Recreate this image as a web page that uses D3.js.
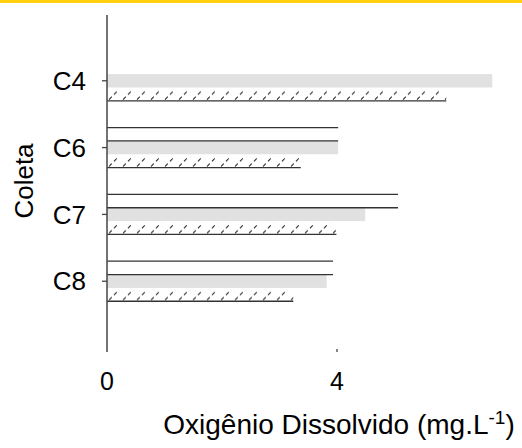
<!DOCTYPE html>
<html>
<head>
<meta charset="utf-8">
<script src="https://cdn.jsdelivr.net/npm/d3@7"></script>
<style>
  html, body { margin: 0; padding: 0; background: #fff; }
  svg { display: block; font-family: "Liberation Sans", Arial, sans-serif; }
</style>
</head>
<body>
<svg id="chart" width="522" height="448"></svg>
<script>
// ---- data ----
const categories = ["C4", "C6", "C7", "C8"];
const seriesNames = ["Série 1", "Série 2", "Série 3"];
const serie1 = [null, 4.02, 5.06, 3.93];   // white, outlined
const serie2 = [6.70, 4.02, 4.49, 3.82];   // light gray
const serie3 = [5.90, 3.37, 3.99, 3.24];   // hatched
const xTicks = [0, 4];
const xLabel = "Oxigênio Dissolvido (mg.L";
const xLabelSup = "-1";
const yLabel = "Coleta";

const svg = d3.select("#chart");

// top yellow rule
svg.append("rect").attr("x", 0).attr("y", 0).attr("width", 522).attr("height", 3)
  .attr("fill", "#FFCF10");

// hatch pattern
const defs = svg.append("defs");
const pat = defs.append("pattern").attr("id", "hatch")
  .attr("patternUnits", "userSpaceOnUse").attr("width", 14).attr("height", 13.4)
  .attr("x", 107);
pat.append("line").attr("x1", 2).attr("y1", 12).attr("x2", 12).attr("y2", 2)
  .attr("stroke", "#222").attr("stroke-width", 1.1).attr("stroke-dasharray", "4 3");

const x = d3.scaleLinear().domain([0, 8]).range([107, 567]);
const y0 = d3.scaleBand().domain(categories).range([34, 328])
  .paddingInner(0.4).paddingOuter(0.4);
const y1 = d3.scaleBand().domain(seriesNames).range([0, y0.bandwidth()]);

const rows = categories.map((c, i) => ({ cat: c, vals: [serie1[i], serie2[i], serie3[i]] }));

const g = svg.append("g");
const groups = g.selectAll("g.grp").data(rows).join("g")
  .attr("class", "grp")
  .attr("transform", d => `translate(0,${y0(d.cat)})`);

// gray bars
groups.filter(d => d.vals[1] != null).append("rect")
  .attr("x", x(0)).attr("y", y1(seriesNames[1]))
  .attr("width", d => x(d.vals[1]) - x(0)).attr("height", y1.bandwidth())
  .attr("fill", "#E1E1E1");

// hatched bars
groups.filter(d => d.vals[2] != null).append("rect")
  .attr("x", x(0)).attr("y", y1(seriesNames[2]))
  .attr("width", d => x(d.vals[2]) - x(0)).attr("height", y1.bandwidth())
  .attr("fill", "url(#hatch)");
groups.filter(d => d.vals[2] != null).append("line")
  .attr("x1", x(0)).attr("x2", d => x(d.vals[2]))
  .attr("y1", y1(seriesNames[2]) + y1.bandwidth()).attr("y2", y1(seriesNames[2]) + y1.bandwidth())
  .attr("stroke", "#333").attr("stroke-width", 1.3);

// white outlined bars (top & bottom edges)
const wb = groups.filter(d => d.vals[0] != null);
[0, 1].forEach(k => {
  wb.append("line")
    .attr("x1", x(0)).attr("x2", d => x(d.vals[0]))
    .attr("y1", y1(seriesNames[0]) + k * y1.bandwidth())
    .attr("y2", y1(seriesNames[0]) + k * y1.bandwidth())
    .attr("stroke", "#333").attr("stroke-width", 1.3);
});

// y axis
svg.append("line").attr("x1", 107).attr("x2", 107).attr("y1", 15).attr("y2", 352)
  .attr("stroke", "#444").attr("stroke-width", 1.5);
const catCenter = c => y0(c) + y1(seriesNames[1]) + y1.bandwidth() / 2;
svg.selectAll("line.ytick").data(categories).join("line").attr("class", "ytick")
  .attr("x1", 102).attr("x2", 107)
  .attr("y1", d => catCenter(d)).attr("y2", d => catCenter(d))
  .attr("stroke", "#444").attr("stroke-width", 1.3);
svg.selectAll("text.ylab").data(categories).join("text").attr("class", "ylab")
  .attr("x", 86).attr("y", d => catCenter(d) + 9.2)
  .attr("text-anchor", "end").attr("font-size", 26).attr("fill", "#000")
  .text(d => d);

// x ticks (no axis line)
svg.selectAll("line.xtick").data(xTicks.filter(v => v !== 0)).join("line").attr("class", "xtick")
  .attr("x1", d => x(d)).attr("x2", d => x(d)).attr("y1", 349).attr("y2", 352)
  .attr("stroke", "#444").attr("stroke-width", 1.3);
svg.selectAll("text.xlab").data(xTicks).join("text").attr("class", "xlab")
  .attr("x", d => x(d)).attr("y", 390)
  .attr("text-anchor", "middle").attr("font-size", 25).attr("fill", "#000")
  .text(d => d);

// axis titles
const xt = svg.append("text").attr("x", 339).attr("y", 434)
  .attr("text-anchor", "middle").attr("font-size", 28).attr("fill", "#000");
xt.append("tspan").text(xLabel);
xt.append("tspan").attr("font-size", 19).attr("dy", -10).text(xLabelSup);
xt.append("tspan").attr("dy", 10).text(")");

svg.append("text").attr("transform", "translate(33,181) rotate(-90)")
  .attr("text-anchor", "middle").attr("font-size", 26).attr("fill", "#000")
  .text(yLabel);
</script>
</body>
</html>
